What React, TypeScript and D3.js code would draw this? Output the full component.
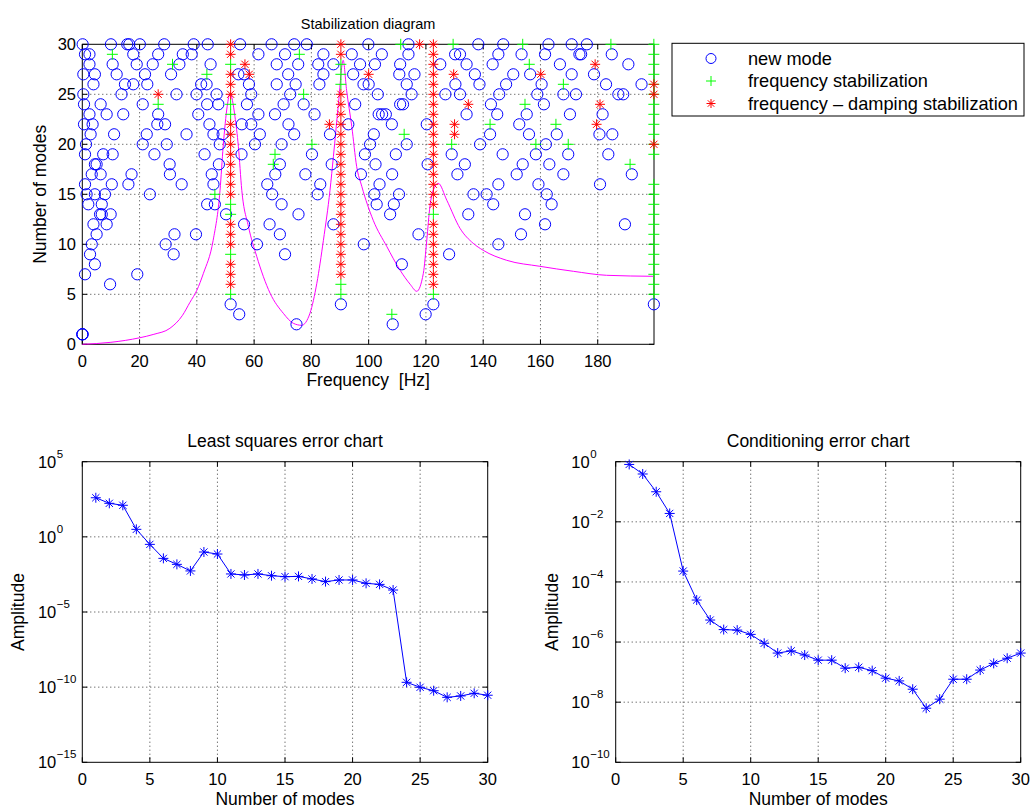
import React from 'react';
import * as d3 from 'd3';

const W = 1031;
const H = 808;
const FONT = '"Liberation Sans", Arial, Helvetica, sans-serif';

// ---------- Stabilization diagram data ----------
const freqTicks = [0, 20, 40, 60, 80, 100, 120, 140, 160, 180];
const orderTicks = [0, 5, 10, 15, 20, 25, 30];

// new-mode frequencies [Hz], one list per model order 1..30
const newModeFreqs: number[][] = [
  [0, 0.05, 0.1],
  [74.8, 108.4],
  [54.8, 119.9],
  [51.8, 90.3, 122.6, 199.6],
  [],
  [9.7],
  [0.95, 19.2],
  [4.4, 111.6],
  [2.7, 31.9, 70.8, 128.1],
  [3.3, 29.1, 61.0, 98.3, 145.3],
  [5.0, 32.2, 39.7, 69.0, 117.4, 153.2],
  [3.9, 8.5, 56.5, 65.4, 87.7, 161.6, 189.5],
  [6.2, 6.8, 9.9, 50.2, 75.5, 107.5, 134.8, 154.6],
  [2.1, 6.8, 43.6, 46.3, 69.6, 102.8, 108.8, 143.5, 163.9],
  [1.5, 4.4, 7.9, 23.6, 66.3, 82.2, 102.0, 110.6, 136.6, 141.2, 162.2],
  [0.95, 10.3, 16.1, 34.7, 45.8, 64.6, 83.1, 103.8, 145.3, 159.3, 180.8],
  [3.3, 6.4, 17.2, 30.6, 45.2, 67.4, 77.9, 97.3, 108.2, 131.0, 151.7, 168.0, 191.9],
  [4.4, 5.0, 30.5, 47.7, 69.0, 87.1, 102.4, 120.6, 133.6, 153.8, 163.1],
  [0.95, 7.3, 10.6, 25.2, 42.7, 55.6, 80.2, 98.7, 109.5, 129.0, 146.8, 158.4, 169.7, 183.7],
  [1.3, 21.1, 29.5, 48.0, 60.3, 69.6, 100.5, 113.3, 138.9, 161.9],
  [2.9, 11.1, 22.5, 36.4, 45.8, 49.0, 62.0, 74.0, 86.5, 101.8, 142.4, 156.0, 165.7, 180.6, 185.1],
  [0.6, 3.6, 26.2, 28.9, 44.4, 55.7, 59.0, 72.0, 92.9, 108.1, 120.3, 152.6],
  [2.5, 8.5, 14.3, 26.5, 40.5, 61.5, 67.3, 81.1, 103.5, 104.7, 106.0, 134.2, 144.9, 155.2, 170.3, 181.7],
  [0.6, 6.4, 21.1, 43.6, 47.5, 57.5, 70.3, 77.3, 95.3, 111.0, 112.0, 142.7, 161.2],
  [0.36, 13.7, 32.9, 39.9, 46.9, 59.0, 72.6, 103.2, 115.0, 126.8, 131.9, 145.6, 158.9, 168.0, 172.4, 187.2, 188.9],
  [3.9, 14.9, 17.8, 22.7, 41.5, 43.4, 58.2, 67.9, 74.5, 82.8, 98.2, 100.0, 113.3, 130.3, 138.7, 148.0, 160.4, 182.9, 195.3],
  [0.36, 4.4, 12.0, 21.9, 31.0, 54.5, 56.5, 71.9, 84.2, 94.6, 110.7, 116.0, 137.1, 150.5, 156.4, 170.9, 178.7],
  [2.5, 10.6, 19.0, 24.6, 33.9, 44.8, 67.9, 75.4, 82.4, 87.7, 97.0, 102.2, 111.0, 125.0, 134.2, 143.3, 166.8, 190.7],
  [0.95, 2.5, 17.8, 26.5, 35.1, 38.2, 61.5, 70.8, 84.2, 94.1, 104.6, 113.9, 130.2, 131.9, 145.3, 153.4, 161.6, 173.6, 174.2, 184.9],
  [0.12, 10.0, 15.7, 16.4, 20.1, 28.6, 38.9, 43.8, 55.1, 66.1, 74.0, 78.4, 99.9, 113.9, 138.3, 147.0, 162.8, 170.9, 176.2],
];

// scattered frequency-stabilized poles [freq, order]
const freqStabPoints: [number, number][] = [
  [10.5, 29], [31.5, 28], [43.5, 27], [26.5, 24], [46.3, 15], [75.8, 29], [77.3, 25], [80.2, 20],
  [67.3, 19], [66.7, 18], [111.2, 30], [112.4, 21], [108.1, 3], [129.5, 30], [129.0, 20], [153.8, 30],
  [184.6, 30], [156.1, 28], [168.0, 26], [154.6, 24], [142.4, 22], [165.4, 22], [158.4, 20], [169.7, 20],
  [191.3, 18],
];
// scattered frequency-damping stabilized poles [freq, order]
const dampStabPoints: [number, number][] = [
  [26.5, 25], [56.8, 28], [58.3, 27], [86.3, 22], [100.0, 27], [117.8, 30], [129.7, 27], [130.0, 22],
  [130.0, 21], [179.1, 28], [160.1, 27], [134.8, 24], [180.8, 24], [179.6, 22],
];

// stable columns
const col1Freq = 51.8;
const col1Plus = [5, 9, 13, 14, 23, 24, 28];
const col1Star = [6, 7, 8, 10, 11, 12, 15, 16, 17, 18, 19, 20, 21, 22, 25, 26, 27, 29, 30];
const col2Freq = 90.3;
const col2Plus = [5, 6, 26, 27, 28];
const col2Star = [7, 8, 9, 10, 11, 12, 13, 14, 15, 16, 17, 18, 19, 20, 21, 22, 23, 24, 25, 29, 30];
const col3Freq = 122.6;
const col3Plus = [5, 13];
const col3Star = [6, 7, 8, 9, 10, 11, 12, 14, 15, 16, 17, 18, 19, 20, 21, 22, 23, 24, 25, 26, 27, 28, 29, 30];
const col4Freq = 199.6;
const col4Plus = [5, 6, 7, 8, 9, 10, 11, 12, 13, 14, 15, 16, 19, 20, 21, 22, 23, 24, 25, 26, 27, 28, 29, 30];
const col4Star = [20, 25, 26];

// FRF magnitude overlay (scaled) [freq, value]
const frfCurve: [number, number][] = [
  [0, 0], [10, 0.2], [20, 0.65], [25, 1.0], [30.6, 1.6], [35, 2.9], [37.6, 4.2], [40, 5.4], [42.3, 7.1],
  [45.7, 10.4], [48.1, 15.4], [49.2, 19.8], [50.6, 23.8], [51.6, 25.1], [53.3, 22.8], [54.5, 19.8],
  [55.7, 15.4], [58, 11.8], [60.9, 8.8], [65.6, 5.1], [70.2, 3.1], [73.7, 2.1], [76.6, 1.9], [79.5, 3.1],
  [81.9, 6.1], [84.2, 10.4], [86.5, 15.4], [87.7, 18.8], [89.4, 23.9], [91.1, 28.4], [92.3, 25.4],
  [94.1, 21.8], [95.8, 17.8], [97.6, 15.8], [101.6, 12.4], [106.3, 9.8], [111, 7.4], [114.5, 6.0],
  [116.8, 5.3], [119.1, 7.1], [120.3, 10.4], [121.4, 13.8], [123.2, 15.8], [124.3, 16.1], [127.3, 14.4],
  [131.9, 11.6], [136.5, 10.1], [140, 9.4], [148.2, 8.4], [159.8, 7.8], [171.5, 7.3], [183.1, 6.9],
  [199.6, 6.8],
];

// ---------- Error charts data ----------
const modeNumbers = [1, 2, 3, 4, 5, 6, 7, 8, 9, 10, 11, 12, 13, 14, 15, 16, 17, 18, 19, 20, 21, 22, 23, 24, 25, 26, 27, 28, 29, 30];
const errXTicks = [0, 5, 10, 15, 20, 25, 30];
const lsError = [
  4.0e2, 1.7e2, 1.26e2, 3.16, 0.316, 3.7e-2, 1.48e-2, 5.4e-3, 9.8e-2, 7.2e-2,
  3.4e-3, 2.9e-3, 3.4e-3, 2.6e-3, 2.24e-3, 2.34e-3, 1.58e-3, 1.05e-3, 1.35e-3, 1.35e-3,
  8.1e-4, 6.9e-4, 2.9e-4, 2.1e-10, 9.8e-11, 5.8e-11, 2.1e-11, 2.6e-11, 3.9e-11, 2.9e-11,
];
const lsExponents = [5, 0, -5, -10, -15];
const condError = [
  0.81, 0.39, 0.1, 1.9e-2, 2.3e-4, 2.5e-5, 5.4e-6, 2.6e-6, 2.5e-6, 1.8e-6,
  9.1e-7, 4.3e-7, 5.1e-7, 3.7e-7, 2.5e-7, 2.5e-7, 1.35e-7, 1.45e-7, 1.12e-7, 6.3e-8,
  5.1e-8, 2.7e-8, 6.3e-9, 1.26e-8, 5.8e-8, 5.8e-8, 1.17e-7, 1.95e-7, 2.9e-7, 4.3e-7,
];
const condExponents = [0, -2, -4, -6, -8, -10];

const BLUE = '#0000ff';
const GREEN = '#00ff00';
const RED = '#ff0000';
const MAGENTA = '#ff00ff';
const GRID = '#3a3a3a';
const TICK = 5;

function Plus({ x, y, r, color }: { x: number; y: number; r: number; color: string }) {
  return <path d={`M${x - r},${y}H${x + r}M${x},${y - r}V${y + r}`} stroke={color} strokeWidth={1} fill="none" />;
}
function Star({ x, y, r, color }: { x: number; y: number; r: number; color: string }) {
  const d = r * 0.72;
  return (
    <path
      d={`M${x - r},${y}H${x + r}M${x},${y - r}V${y + r}M${x - d},${y - d}L${x + d},${y + d}M${x - d},${y + d}L${x + d},${y - d}`}
      stroke={color}
      strokeWidth={1}
      fill="none"
    />
  );
}

function Frame({ x0, x1, y0, y1 }: { x0: number; x1: number; y0: number; y1: number }) {
  return <rect x={x0} y={y0} width={x1 - x0} height={y1 - y0} fill="none" stroke="#000" strokeWidth={1} />;
}

function StabDiagram() {
  const x = d3.scaleLinear().domain([0, 199.65]).range([82.3, 654]);
  const y = d3.scaleLinear().domain([0, 30]).range([344.3, 44.3]);
  const [x0, x1] = x.range();
  const [y0, y1] = [y(30), y(0)];
  const line = d3
    .line<[number, number]>()
    .x((d) => x(d[0]))
    .y((d) => y(d[1]))
    .curve(d3.curveMonotoneX);

  const plusPts: [number, number][] = [
    ...freqStabPoints,
    ...col1Plus.map((o) => [col1Freq, o] as [number, number]),
    ...col2Plus.map((o) => [col2Freq, o] as [number, number]),
    ...col3Plus.map((o) => [col3Freq, o] as [number, number]),
    ...col4Plus.map((o) => [col4Freq, o] as [number, number]),
  ];
  const starPts: [number, number][] = [
    ...dampStabPoints,
    ...col1Star.map((o) => [col1Freq, o] as [number, number]),
    ...col2Star.map((o) => [col2Freq, o] as [number, number]),
    ...col3Star.map((o) => [col3Freq, o] as [number, number]),
    ...col4Star.map((o) => [col4Freq, o] as [number, number]),
  ];

  return (
    <g>
      <rect x={x0} y={y0} width={x1 - x0} height={y1 - y0} fill="#fff" />
      {freqTicks.filter((t) => t > 0).map((t) => (
        <line key={'gx' + t} x1={x(t)} x2={x(t)} y1={y0} y2={y1} stroke={GRID} strokeDasharray="1 3" />
      ))}
      {orderTicks.filter((t) => t > 0 && t < 30).map((t) => (
        <line key={'gy' + t} x1={x0} x2={x1} y1={y(t)} y2={y(t)} stroke={GRID} strokeDasharray="1 3" />
      ))}
      {freqTicks.map((t) => (
        <g key={'tx' + t}>
          <line x1={x(t)} x2={x(t)} y1={y1} y2={y1 - TICK} stroke="#000" />
          <line x1={x(t)} x2={x(t)} y1={y0} y2={y0 + TICK} stroke="#000" />
          <text x={x(t)} y={367} textAnchor="middle" fontSize={16.5} fontFamily={FONT} fill="#000">
            {t}
          </text>
        </g>
      ))}
      {orderTicks.map((t) => (
        <g key={'ty' + t}>
          <line x1={x0} x2={x0 + TICK} y1={y(t)} y2={y(t)} stroke="#000" />
          <line x1={x1} x2={x1 - TICK} y1={y(t)} y2={y(t)} stroke="#000" />
          <text x={76} y={y(t) + 6} textAnchor="end" fontSize={16.5} fontFamily={FONT} fill="#000">
            {t}
          </text>
        </g>
      ))}
      <Frame x0={x0} x1={x1} y0={y0} y1={y1} />
      <path d={line(frfCurve) || ''} fill="none" stroke={MAGENTA} strokeWidth={1} />
      {newModeFreqs.map((row, i) =>
        row.map((f, j) => (
          <circle key={`c${i}-${j}`} cx={x(f)} cy={y(i + 1)} r={5.6} fill="none" stroke={BLUE} strokeWidth={1} />
        ))
      )}
      {plusPts.map((p, i) => (
        <Plus key={'p' + i} x={x(p[0])} y={y(p[1])} r={5.5} color={GREEN} />
      ))}
      {starPts.map((p, i) => (
        <Star key={'s' + i} x={x(p[0])} y={y(p[1])} r={5} color={RED} />
      ))}
      <text x={(x0 + x1) / 2} y={28.5} textAnchor="middle" fontSize={14.5} fontFamily={FONT}>
        Stabilization diagram
      </text>
      <text x={(x0 + x1) / 2} y={386} textAnchor="middle" fontSize={17.5} fontFamily={FONT} xmlSpace="preserve">
        Frequency {'\u00a0'}[Hz]
      </text>
      <text
        transform={`translate(46,${(y0 + y1) / 2}) rotate(-90)`}
        textAnchor="middle"
        fontSize={17.5}
        fontFamily={FONT}
      >
        Number of modes
      </text>
    </g>
  );
}

function Legend() {
  const bx = 672;
  const by = 43.3;
  const entries = [
    { label: 'new mode', kind: 'circle' },
    { label: 'frequency stabilization', kind: 'plus' },
    { label: 'frequency \u2013 damping stabilization', kind: 'star' },
  ];
  return (
    <g>
      <rect x={bx} y={by} width={352} height={72.7} fill="#fff" stroke="#000" strokeWidth={1} />
      {entries.map((e, i) => {
        const cy = 58.5 + i * 22.5;
        return (
          <g key={e.label}>
            {e.kind === 'circle' && <circle cx={711} cy={cy} r={5} fill="none" stroke={BLUE} />}
            {e.kind === 'plus' && <Plus x={711} y={cy} r={5} color={GREEN} />}
            {e.kind === 'star' && <Star x={711} y={cy} r={4.5} color={RED} />}
            <text x={748} y={cy + 6} fontSize={18.2} fontFamily={FONT}>
              {e.label}
            </text>
          </g>
        );
      })}
    </g>
  );
}

function ErrorChart({
  left,
  right,
  values,
  exps,
  title,
}: {
  left: number;
  right: number;
  values: number[];
  exps: number[];
  title: string;
}) {
  const top = 461.7;
  const bottom = 762.3;
  const x = d3.scaleLinear().domain([0, 30]).range([left, right]);
  const y = d3
    .scaleLog()
    .domain([Math.pow(10, d3.min(exps) as number), Math.pow(10, d3.max(exps) as number)])
    .range([bottom, top]);
  const pts = modeNumbers.map((m, i) => [x(m), y(values[i])] as [number, number]);
  const line = d3.line<[number, number]>();
  return (
    <g>
      {errXTicks.filter((t) => t > 0 && t < 30).map((t) => (
        <line key={'gx' + t} x1={x(t)} x2={x(t)} y1={top} y2={bottom} stroke={GRID} strokeDasharray="1 3" />
      ))}
      {exps.filter((e, i) => i > 0 && i < exps.length - 1).map((e) => (
        <line key={'gy' + e} x1={left} x2={right} y1={y(Math.pow(10, e))} y2={y(Math.pow(10, e))} stroke={GRID} strokeDasharray="1 3" />
      ))}
      {errXTicks.map((t) => (
        <g key={'tx' + t}>
          <line x1={x(t)} x2={x(t)} y1={bottom} y2={bottom - TICK} stroke="#000" />
          <line x1={x(t)} x2={x(t)} y1={top} y2={top + TICK} stroke="#000" />
          <text x={x(t)} y={785} textAnchor="middle" fontSize={16.5} fontFamily={FONT}>
            {t}
          </text>
        </g>
      ))}
      {exps.map((e) => {
        const yy = y(Math.pow(10, e));
        return (
          <g key={'ty' + e}>
            <line x1={left} x2={left + TICK} y1={yy} y2={yy} stroke="#000" />
            <line x1={right} x2={right - TICK} y1={yy} y2={yy} stroke="#000" />
            <text x={left - 26} y={yy + 6} textAnchor="end" fontSize={16.5} fontFamily={FONT}>
              10
            </text>
            <text x={left - 25.5} y={yy - 4} textAnchor="start" fontSize={11.5} fontFamily={FONT}>
              {e < 0 ? '\u2212' + Math.abs(e) : String(e)}
            </text>
          </g>
        );
      })}
      <Frame x0={left} x1={right} y0={top} y1={bottom} />
      <path d={line(pts) || ''} fill="none" stroke={BLUE} strokeWidth={1} />
      {pts.map((p, i) => (
        <Star key={i} x={p[0]} y={p[1]} r={5} color={BLUE} />
      ))}
      <text x={(left + right) / 2} y={447} textAnchor="middle" fontSize={17.5} fontFamily={FONT}>
        {title}
      </text>
      <text x={(left + right) / 2} y={805} textAnchor="middle" fontSize={17.5} fontFamily={FONT}>
        Number of modes
      </text>
      <text
        transform={`translate(${left - 58},${(top + bottom) / 2}) rotate(-90)`}
        textAnchor="middle"
        fontSize={17.5}
        fontFamily={FONT}
      >
        Amplitude
      </text>
    </g>
  );
}

export default function App() {
  return (
    <div style={{ position: 'absolute', left: 0, top: 0 }}>
      <svg width={W} height={H} viewBox={`0 0 ${W} ${H}`} style={{ display: 'block', background: '#fff' }}>
        <StabDiagram />
        <Legend />
        <ErrorChart left={82.3} right={487.7} values={lsError} exps={lsExponents} title="Least squares error chart" />
        <ErrorChart left={615.7} right={1020.7} values={condError} exps={condExponents} title="Conditioning error chart" />
      </svg>
    </div>
  );
}
